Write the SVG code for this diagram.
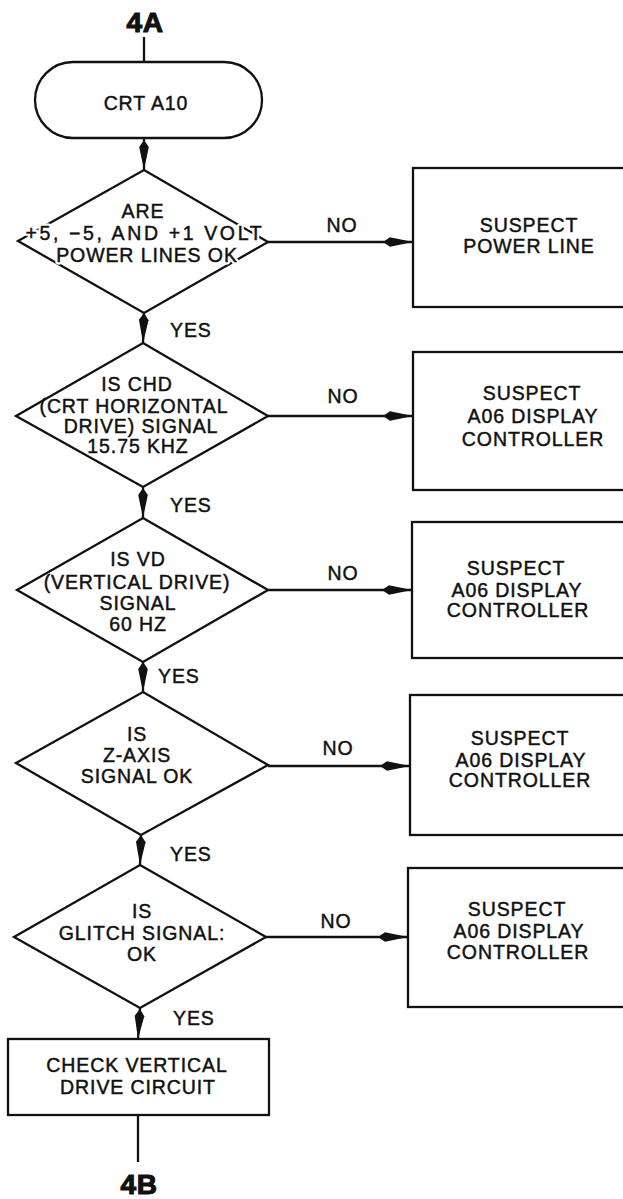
<svg xmlns="http://www.w3.org/2000/svg" width="623" height="1199" viewBox="0 0 623 1199">
<style>
.s{fill:#fff;stroke:#111;stroke-width:2.3}
.c{fill:none;stroke:#111;stroke-width:2.3}
text{font-family:"Liberation Sans",Arial,sans-serif;font-size:19.5px;letter-spacing:0.9px;fill:#111;stroke:#111;stroke-width:0.45px}
.m{text-anchor:middle}
.big{font-size:28px;font-weight:bold;letter-spacing:0.5px;stroke-width:1.1px}
text.bg{fill:#fff;stroke:#fff;stroke-width:5px;stroke-linejoin:round}
</style>
<defs>
<marker id="arr" viewBox="-32 -6 34 12" markerWidth="34" markerHeight="12" refX="0" refY="0" orient="auto" markerUnits="userSpaceOnUse">
<path d="M-30,0 L-23,-4.8 L0,0 L-23,4.8 Z" fill="#111"/>
</marker>
</defs>
<rect width="623" height="1199" fill="#fff"/>

<g id="connectors">
<line class="c" x1="144" y1="37" x2="144" y2="62"/>
<line class="c" x1="144" y1="138" x2="144" y2="170" marker-end="url(#arr)"/>
<line class="c" x1="144" y1="313" x2="143" y2="343" marker-end="url(#arr)"/>
<line class="c" x1="143" y1="487" x2="143" y2="518" marker-end="url(#arr)"/>
<line class="c" x1="143" y1="662" x2="143" y2="692" marker-end="url(#arr)"/>
<line class="c" x1="141" y1="835" x2="140" y2="865" marker-end="url(#arr)"/>
<line class="c" x1="140" y1="1008" x2="138" y2="1039" marker-end="url(#arr)"/>
<line class="c" x1="138" y1="1115" x2="138" y2="1162"/>
<line class="c" x1="268" y1="242" x2="413" y2="242" marker-end="url(#arr)"/>
<line class="c" x1="268" y1="416" x2="413" y2="416" marker-end="url(#arr)"/>
<line class="c" x1="268" y1="590" x2="412" y2="590" marker-end="url(#arr)"/>
<line class="c" x1="268" y1="766" x2="410" y2="766" marker-end="url(#arr)"/>
<line class="c" x1="266" y1="937" x2="408" y2="937" marker-end="url(#arr)"/>
<text x="170" y="337">YES</text>
<text x="170" y="512">YES</text>
<text x="158" y="683">YES</text>
<text x="170" y="861">YES</text>
<text x="173" y="1025">YES</text>
<text class="m" x="342" y="232">NO</text>
<text class="m" x="343" y="403">NO</text>
<text class="m" x="343" y="580">NO</text>
<text class="m" x="338" y="755">NO</text>
<text class="m" x="336" y="928">NO</text>
</g>

<g id="start4A"><text class="m big" x="145" y="32">4A</text></g>

<g id="crtA10">
<rect class="s" x="35" y="62" width="227" height="76" rx="38" ry="38"/>
<text class="m" x="146" y="110">CRT A10</text>
</g>

<g id="q1">
<path class="s" d="M144,170 L268,242 L144,313 L18,241 Z"/>
<text class="m bg" x="144" y="240" textLength="237" lengthAdjust="spacing">+5, −5, AND +1 VOLT</text>
<text class="m bg" x="147" y="262">POWER LINES OK</text>
<text class="m" x="143" y="218">ARE</text>
<text class="m" x="144" y="240" textLength="237" lengthAdjust="spacing">+5, −5, AND +1 VOLT</text>
<text class="m" x="147" y="262">POWER LINES OK</text>
</g>

<g id="b1">
<rect class="s" x="413" y="168" width="230" height="139"/>
<text class="m" x="529" y="232">SUSPECT</text>
<text class="m" x="529" y="253">POWER LINE</text>
</g>

<g id="q2">
<path class="s" d="M143,343 L268,416 L143,487 L16,416 Z"/>
<text class="m" x="137" y="391">IS CHD</text>
<text class="m" x="134" y="413">(CRT HORIZONTAL</text>
<text class="m" x="141" y="433">DRIVE) SIGNAL</text>
<text class="m" x="138" y="453">15.75 KHZ</text>
</g>

<g id="b2">
<rect class="s" x="413" y="352" width="230" height="138"/>
<text class="m" x="532" y="400">SUSPECT</text>
<text class="m" x="533" y="423">A06 DISPLAY</text>
<text class="m" x="533" y="446">CONTROLLER</text>
</g>

<g id="q3">
<path class="s" d="M143,518 L268,590 L143,662 L17,590 Z"/>
<text class="m" x="138" y="566">IS VD</text>
<text class="m" x="137" y="589">(VERTICAL DRIVE)</text>
<text class="m" x="138" y="610">SIGNAL</text>
<text class="m" x="138" y="631">60 HZ</text>
</g>

<g id="b3">
<rect class="s" x="412" y="522" width="230" height="136"/>
<text class="m" x="516" y="575">SUSPECT</text>
<text class="m" x="517" y="597">A06 DISPLAY</text>
<text class="m" x="518" y="617">CONTROLLER</text>
</g>

<g id="q4">
<path class="s" d="M143,692 L268,765 L141,835 L16,763 Z"/>
<text class="m" x="137" y="741">IS</text>
<text class="m" x="137" y="762">Z-AXIS</text>
<text class="m" x="137" y="783">SIGNAL OK</text>
</g>

<g id="b4">
<rect class="s" x="410" y="695" width="230" height="140"/>
<text class="m" x="520" y="745">SUSPECT</text>
<text class="m" x="521" y="767">A06 DISPLAY</text>
<text class="m" x="520" y="787">CONTROLLER</text>
</g>

<g id="q5">
<path class="s" d="M140,865 L266,937 L140,1008 L14,937 Z"/>
<text class="m" x="142" y="918">IS</text>
<text class="m" x="142" y="940">GLITCH SIGNAL:</text>
<text class="m" x="142" y="961">OK</text>
</g>

<g id="b5">
<rect class="s" x="408" y="868" width="230" height="139"/>
<text class="m" x="517" y="916">SUSPECT</text>
<text class="m" x="519" y="938">A06 DISPLAY</text>
<text class="m" x="518" y="959">CONTROLLER</text>
</g>

<g id="checkVD">
<rect class="s" x="8" y="1039" width="261" height="76"/>
<text class="m" x="137" y="1072">CHECK VERTICAL</text>
<text class="m" x="138" y="1094">DRIVE CIRCUIT</text>
</g>

<g id="end4B"><text class="m big" x="139" y="1194">4B</text></g>
</svg>
